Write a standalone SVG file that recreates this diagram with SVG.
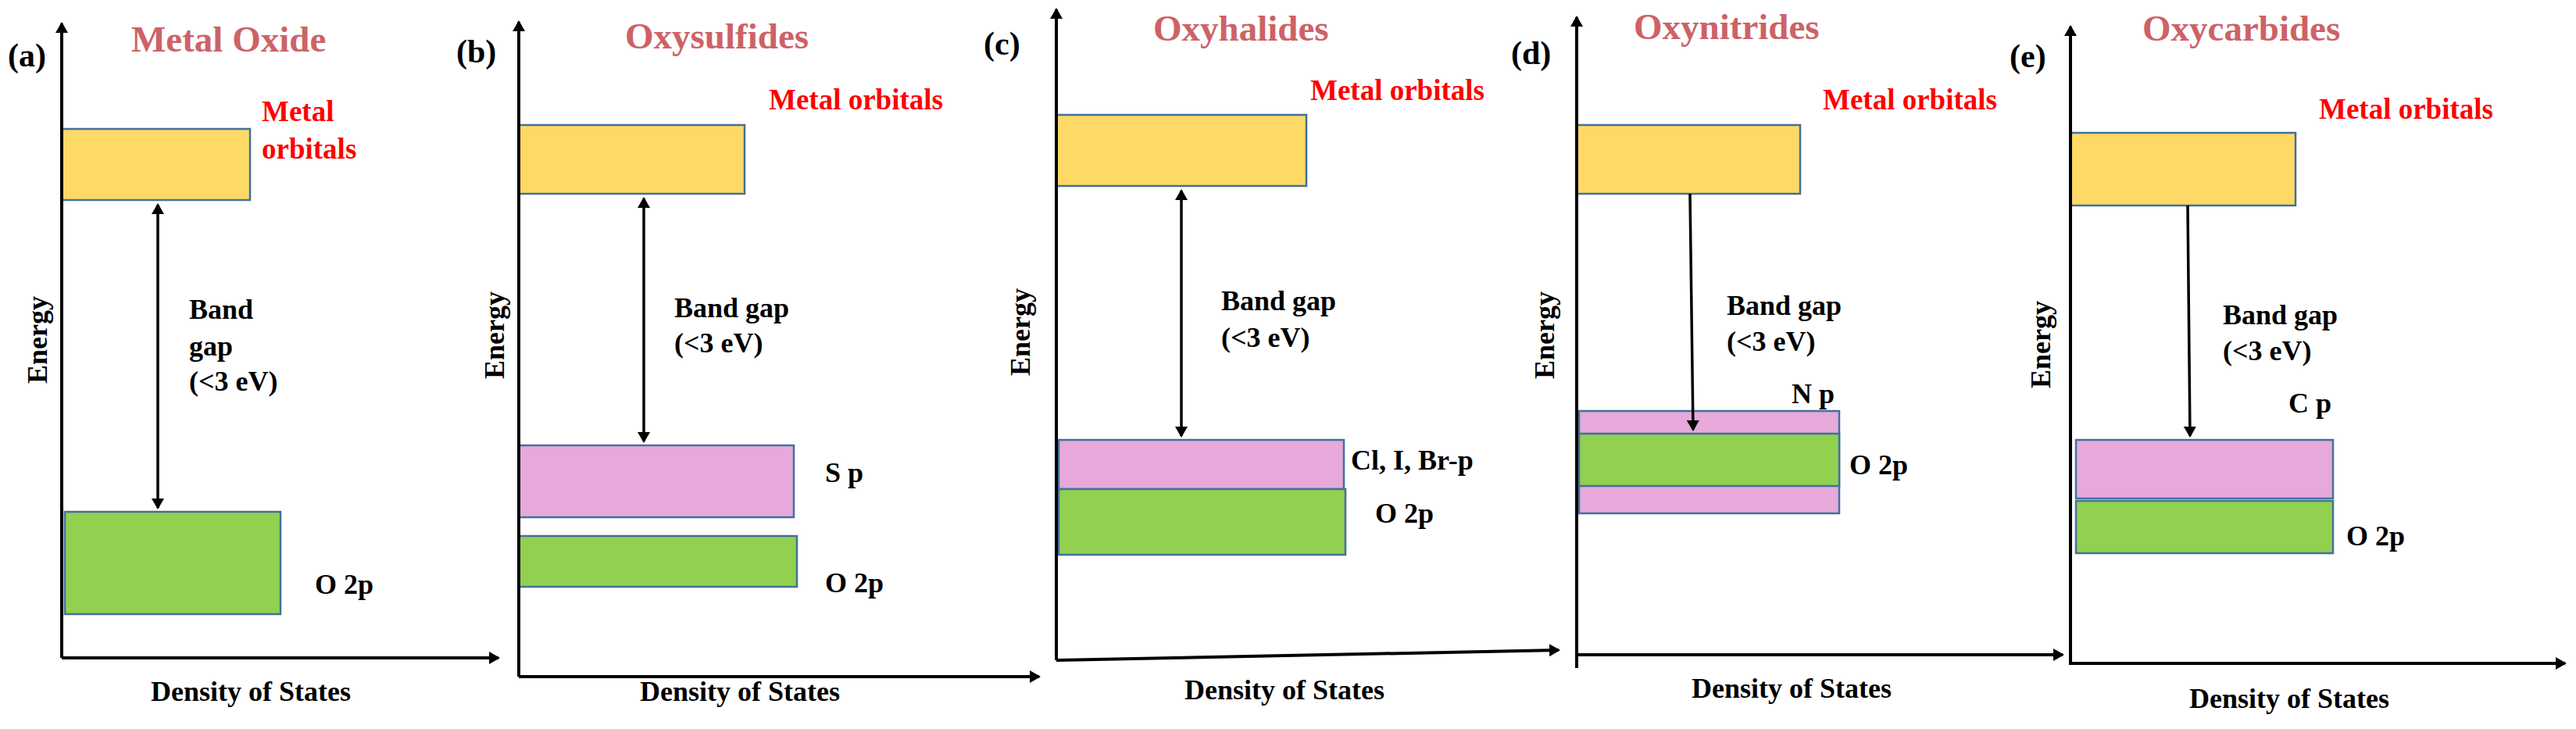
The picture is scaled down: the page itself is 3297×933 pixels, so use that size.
<svg xmlns="http://www.w3.org/2000/svg" width="3297" height="933" viewBox="0 0 3297 933">
<style>
text{font-family:"Liberation Serif","DejaVu Serif",serif;font-weight:700;fill:#000}
.t{font-size:47px;fill:#CD6267}
.p{font-size:42px}
.r{font-size:37px;fill:#FF0000}
.l{font-size:36px}
.ax{stroke:#000;stroke-width:4;fill:none}
.ar{stroke:#000;stroke-width:3.5;fill:none}
.y{fill:#FFD966;stroke:#41719C;stroke-width:2.5}
.g{fill:#92D050;stroke:#41719C;stroke-width:2.5}
.k{fill:#E6A9D9;stroke:#41719C;stroke-width:2.5}
</style>
<defs>
<marker id="a" viewBox="-12 -8 14 16" refX="0" refY="0" markerWidth="14" markerHeight="16" markerUnits="userSpaceOnUse" orient="auto-start-reverse"><path d="M-12,-8L2,0L-12,8z"/></marker>
</defs>
<g id="panel-a">
<rect class="y" x="79" y="165" width="241" height="91"/>
<rect class="g" x="83" y="655" width="276" height="131"/>
<text class="p" x="10" y="85">(a)</text>
<text class="t" x="168" y="66">Metal Oxide</text>
<text class="r" x="335" y="155">Metal</text>
<text class="r" x="335" y="203">orbitals</text>
<text class="l" x="242" y="408">Band</text>
<text class="l" x="242" y="455">gap</text>
<text class="l" x="242" y="500">(&lt;3 eV)</text>
<text class="l" x="403" y="760">O 2p</text>
<text class="l" x="193" y="897">Density of States</text>
<text class="l" transform="translate(60,435) rotate(-90)" text-anchor="middle">Energy</text>
</g>
<g id="panel-b">
<rect class="y" x="664" y="160" width="289" height="88"/>
<rect class="k" x="664" y="570" width="352" height="92"/>
<rect class="g" x="664" y="686" width="356" height="65"/>
<text class="p" x="584" y="80">(b)</text>
<text class="t" x="800" y="62">Oxysulfides</text>
<text class="r" x="984" y="140">Metal orbitals</text>
<text class="l" x="863" y="406">Band gap</text>
<text class="l" x="863" y="451">(&lt;3 eV)</text>
<text class="l" x="1056" y="617">S p</text>
<text class="l" x="1056" y="758">O 2p</text>
<text class="l" x="819" y="897">Density of States</text>
<text class="l" transform="translate(645,429) rotate(-90)" text-anchor="middle">Energy</text>
</g>
<g id="panel-c">
<rect class="y" x="1352" y="147" width="320" height="91"/>
<rect class="k" x="1355" y="563" width="365" height="63"/>
<rect class="g" x="1355" y="626" width="367" height="84"/>
<text class="p" x="1259" y="70">(c)</text>
<text class="t" x="1476" y="52">Oxyhalides</text>
<text class="r" x="1677" y="128">Metal orbitals</text>
<text class="l" x="1563" y="397">Band gap</text>
<text class="l" x="1563" y="444">(&lt;3 eV)</text>
<text class="l" x="1729" y="601">Cl, I, Br-p</text>
<text class="l" x="1760" y="669">O 2p</text>
<text class="l" x="1516" y="895">Density of States</text>
<text class="l" transform="translate(1318,425) rotate(-90)" text-anchor="middle">Energy</text>
</g>
<g id="panel-d">
<rect class="y" x="2018" y="160" width="286" height="88"/>
<rect class="k" x="2021" y="526" width="333" height="131"/>
<rect class="g" x="2021" y="555" width="333" height="67"/>
<text class="p" x="1934" y="82">(d)</text>
<text class="t" x="2091" y="50">Oxynitrides</text>
<text class="r" x="2333" y="140">Metal orbitals</text>
<text class="l" x="2210" y="403">Band gap</text>
<text class="l" x="2210" y="449">(&lt;3 eV)</text>
<text class="l" x="2293" y="516">N p</text>
<text class="l" x="2367" y="607">O 2p</text>
<text class="l" x="2165" y="893">Density of States</text>
<text class="l" transform="translate(1989,429) rotate(-90)" text-anchor="middle">Energy</text>
</g>
<g id="panel-e">
<rect class="y" x="2650" y="170" width="288" height="93"/>
<rect class="k" x="2657" y="563" width="329" height="75"/>
<rect class="g" x="2657" y="641" width="329" height="67"/>
<text class="p" x="2572" y="86">(e)</text>
<text class="t" x="2742" y="52">Oxycarbides</text>
<text class="r" x="2968" y="152">Metal orbitals</text>
<text class="l" x="2845" y="415">Band gap</text>
<text class="l" x="2845" y="461">(&lt;3 eV)</text>
<text class="l" x="2929" y="528">C p</text>
<text class="l" x="3003" y="698">O 2p</text>
<text class="l" x="2802" y="906">Density of States</text>
<text class="l" transform="translate(2624,441) rotate(-90)" text-anchor="middle">Energy</text>
</g>
<g id="connectors">
<path class="ax" d="M79,842V30" marker-end="url(#a)"/>
<path class="ax" d="M79,842H638" marker-end="url(#a)"/>
<path class="ar" d="M202,262V650" marker-start="url(#a)" marker-end="url(#a)"/>
<path class="ax" d="M664,866V28" marker-end="url(#a)"/>
<path class="ax" d="M664,866H1330" marker-end="url(#a)"/>
<path class="ar" d="M824,254V565" marker-start="url(#a)" marker-end="url(#a)"/>
<path class="ax" d="M1352,845V12" marker-end="url(#a)"/>
<path class="ax" d="M1352,845L1995,832" marker-end="url(#a)"/>
<path class="ar" d="M1512,244V558" marker-start="url(#a)" marker-end="url(#a)"/>
<path class="ax" d="M2018,855V22" marker-end="url(#a)"/>
<path class="ax" d="M2018,838H2640" marker-end="url(#a)"/>
<path class="ar" d="M2163,248L2167,550" marker-end="url(#a)"/>
<path class="ax" d="M2650,851V34" marker-end="url(#a)"/>
<path class="ax" d="M2650,849H3283" marker-end="url(#a)"/>
<path class="ar" d="M2800,263L2803,558" marker-end="url(#a)"/>
</g>
</svg>
